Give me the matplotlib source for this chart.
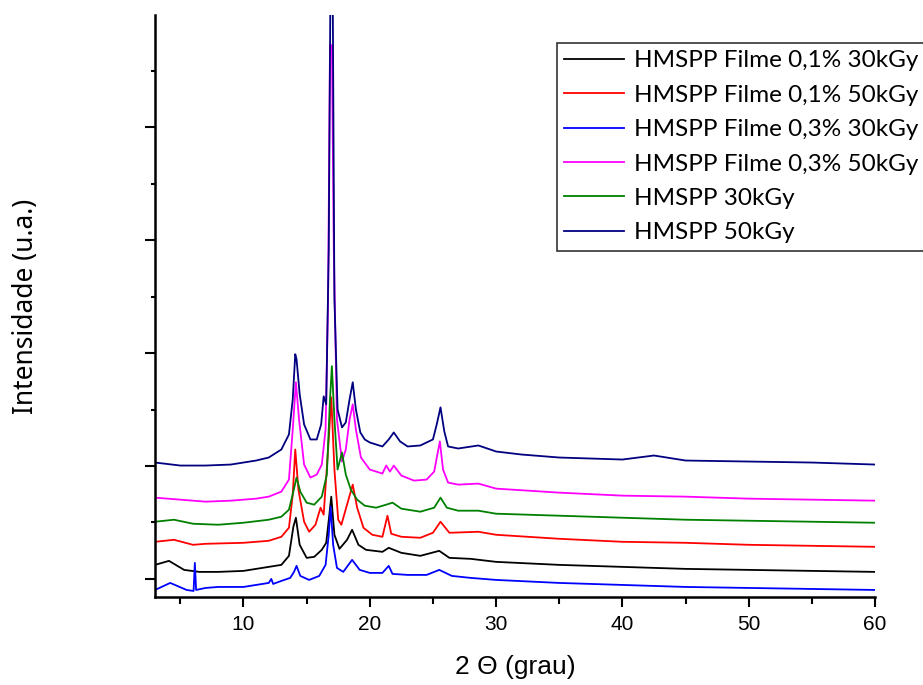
import matplotlib
matplotlib.use('Agg')
import matplotlib.pyplot as plt
from matplotlib.ticker import MultipleLocator

# Difratogramas (leitura aproximada do gráfico original, intensidade em u.a.)
x_f01_30 = [3, 4.1, 5.3, 6.5, 8, 10, 12, 13, 13.6, 13.95, 14.15, 14.45, 15.0, 15.6, 16.2, 16.55,
            16.8, 16.95, 17.2, 17.6, 18.2, 18.6, 19.1, 19.7, 21.0, 21.5, 22.5, 24, 25.5, 26.3,
            28, 30, 35, 40, 45, 50, 55, 60]
y_f01_30 = [350, 390, 300, 280, 280, 290, 330, 350, 440, 730, 820, 550, 420, 430, 500, 570,
            850, 1030, 650, 510, 600, 700, 550, 500, 480, 520, 470, 440, 490, 420,
            410, 380, 350, 330, 310, 300, 290, 280]

x_f01_50 = [3, 4.5, 6, 7, 10, 12, 13, 13.6, 13.9, 14.1, 14.35, 14.8, 15.2, 15.7, 16.1, 16.35,
            16.75, 16.95, 17.2, 17.5, 17.75, 18.2, 18.65, 19.0, 19.5, 20.2, 21.0, 21.4, 21.7,
            22.5, 24, 25.0, 25.6, 26.3, 28.6, 30, 35, 40, 45, 50, 55, 60]
y_f01_50 = [580, 600, 550, 560, 570, 590, 630, 720, 1050, 1500, 1100, 780, 680, 750, 920, 850,
            1600, 2020, 1300, 800, 750, 950, 1150, 920, 720, 650, 630, 840, 660,
            630, 620, 670, 780, 670, 680, 650, 610, 580, 570, 550, 540, 530]

x_f03_30 = [3, 4.2, 5.5, 6.05, 6.15, 6.25, 7, 8, 10, 12, 12.2, 12.35, 13, 13.7, 14.0, 14.2,
            14.5, 15.2, 16.0, 16.5, 16.75, 16.9, 17.1, 17.4, 17.9, 18.6, 19.2, 20, 21, 21.5,
            21.8, 23, 24.5, 25.5, 26.5, 28, 30, 35, 40, 45, 50, 55, 60]
y_f03_30 = [100, 170, 100, 90, 370, 100, 120, 130, 130, 170, 210, 160, 190, 220, 280, 340,
            240, 200, 240, 350, 650, 930, 550, 320, 280, 400, 300, 270, 270, 340,
            260, 250, 250, 300, 240, 220, 200, 170, 150, 130, 120, 110, 100]

x_f03_50 = [3, 5, 7, 9, 10, 11, 12, 13, 13.6, 13.9, 14.15, 14.4, 14.8, 15.3, 15.8, 16.2, 16.5,
            16.7, 16.85, 17.0, 17.15, 17.4, 17.8, 18.1, 18.4, 18.65, 18.9, 19.3, 20, 21, 21.3,
            21.6, 21.9, 22.5, 23.5, 24.5, 25.1, 25.35, 25.55, 25.8, 26.2, 27, 28.6, 30, 35,
            40, 45, 50, 55, 60]
y_f03_50 = [1020, 1000, 980, 990, 1000, 1010, 1030, 1080, 1200, 1700, 2170, 1800, 1350, 1220,
            1250, 1350, 1700, 3000, 5530, 5530, 3500, 1800, 1380, 1500, 1800, 1950, 1700, 1420,
            1300, 1260, 1340, 1280, 1340, 1240, 1190, 1200, 1280, 1450, 1580, 1300, 1170, 1150,
            1160, 1110, 1070, 1040, 1030, 1010, 1000, 990]

x_30 = [3, 4.5, 6, 8, 10, 12, 13, 13.6, 13.95, 14.2, 14.5, 15.0, 15.6, 16.2, 16.6, 16.85, 17.0,
        17.2, 17.45, 17.8, 18.1, 18.5, 19.0, 19.6, 20.5, 21.3, 21.8, 22.5, 24, 25.1, 25.6,
        26.1, 27, 28.6, 30, 35, 40, 45, 50, 55, 60]
y_30 = [780, 800, 760, 750, 770, 800, 830, 900, 1080, 1220, 1080, 970, 950, 1030, 1250, 2000,
        2330, 1800, 1300, 1470, 1250, 1100, 1000, 940, 920, 950, 970, 910, 880, 920, 1020,
        920, 890, 890, 860, 840, 820, 800, 790, 780, 770]

x_50 = [3, 5, 7, 9, 10, 11, 12, 13, 13.6, 13.9, 14.1, 14.2, 14.45, 14.8, 15.3, 15.8, 16.15,
        16.35, 16.55, 16.75, 16.9, 17.05, 17.2, 17.45, 17.8, 18.1, 18.4, 18.65, 18.9, 19.25,
        19.6, 20.0, 21.0, 21.5, 21.9, 22.4, 23, 24, 25, 25.3, 25.6, 25.9, 26.2, 27, 28.6,
        30, 32, 35, 40, 42.5, 45, 50, 55, 60]
y_50 = [1370, 1340, 1340, 1350, 1370, 1390, 1420, 1500, 1650, 2000, 2450, 2400, 2050, 1750,
        1600, 1600, 1750, 2030, 1950, 3500, 6400, 6400, 3000, 1900, 1720, 1770, 2000, 2170,
        1900, 1670, 1600, 1570, 1530, 1600, 1670, 1580, 1530, 1540, 1600, 1750, 1920, 1680,
        1530, 1510, 1540, 1480, 1450, 1420, 1400, 1440, 1390, 1380, 1370, 1350]

series = [
    (x_f01_30, y_f01_30, 'HMSPP Filme 0,1% 30kGy', '#000000'),
    (x_f01_50, y_f01_50, 'HMSPP Filme 0,1% 50kGy', '#FF0000'),
    (x_f03_30, y_f03_30, 'HMSPP Filme 0,3% 30kGy', '#0000FF'),
    (x_f03_50, y_f03_50, 'HMSPP Filme 0,3% 50kGy', '#FF00FF'),
    (x_30, y_30, 'HMSPP 30kGy', '#008000'),
    (x_50, y_50, 'HMSPP 50kGy', '#000080'),
]

fig = plt.figure(figsize=(9.23, 6.85), dpi=100)
ax = fig.add_axes([0.168, 0.1285, 0.78, 0.8495])

for xs, ys, nome, cor in series:
    ax.plot(xs, ys, color=cor, lw=1.3, label=nome)

ax.set_xlim(3, 60)
ax.set_ylim(30, 5830)

ax.spines['top'].set_visible(False)
ax.spines['right'].set_visible(False)
ax.spines['left'].set_linewidth(1.8)
ax.spines['bottom'].set_linewidth(1.8)

ax.xaxis.set_major_locator(MultipleLocator(10))
ax.xaxis.set_minor_locator(MultipleLocator(5))
ax.yaxis.set_major_locator(MultipleLocator(1125, offset=210))
ax.yaxis.set_minor_locator(MultipleLocator(562.5, offset=210))
ax.set_yticklabels([])
ax.tick_params(axis='x', which='major', length=7, width=1.5, pad=6)
ax.tick_params(axis='x', which='minor', length=5, width=1.5)
ax.tick_params(axis='y', which='major', length=7, width=1.5)
ax.tick_params(axis='y', which='minor', length=3, width=1.5)
for lbl in ax.get_xticklabels():
    lbl.set_family('Liberation Sans')
    lbl.set_fontsize(15)

ax.set_xlabel('2 Θ (grau)', fontsize=19, family='Liberation Sans', va='top')
ax.xaxis.set_label_coords(0.5, -0.1)
ax.set_ylabel('Intensidade (u.a.)', fontsize=19, family='Noto Sans')
ax.yaxis.set_label_coords(-0.16, 0.5)

leg = ax.legend(loc='upper left', bbox_to_anchor=(0.6035, 0.937), bbox_transform=fig.transFigure,
                borderaxespad=0, fancybox=False, frameon=True, handlelength=2.47,
                handletextpad=0.41, borderpad=0.3,
                prop={'family': 'Lato', 'size': 17.5}, labelspacing=0.55)
leg.get_frame().set_edgecolor('black')
leg.get_frame().set_linewidth(1.2)

fig.savefig('out.png', dpi=100)
